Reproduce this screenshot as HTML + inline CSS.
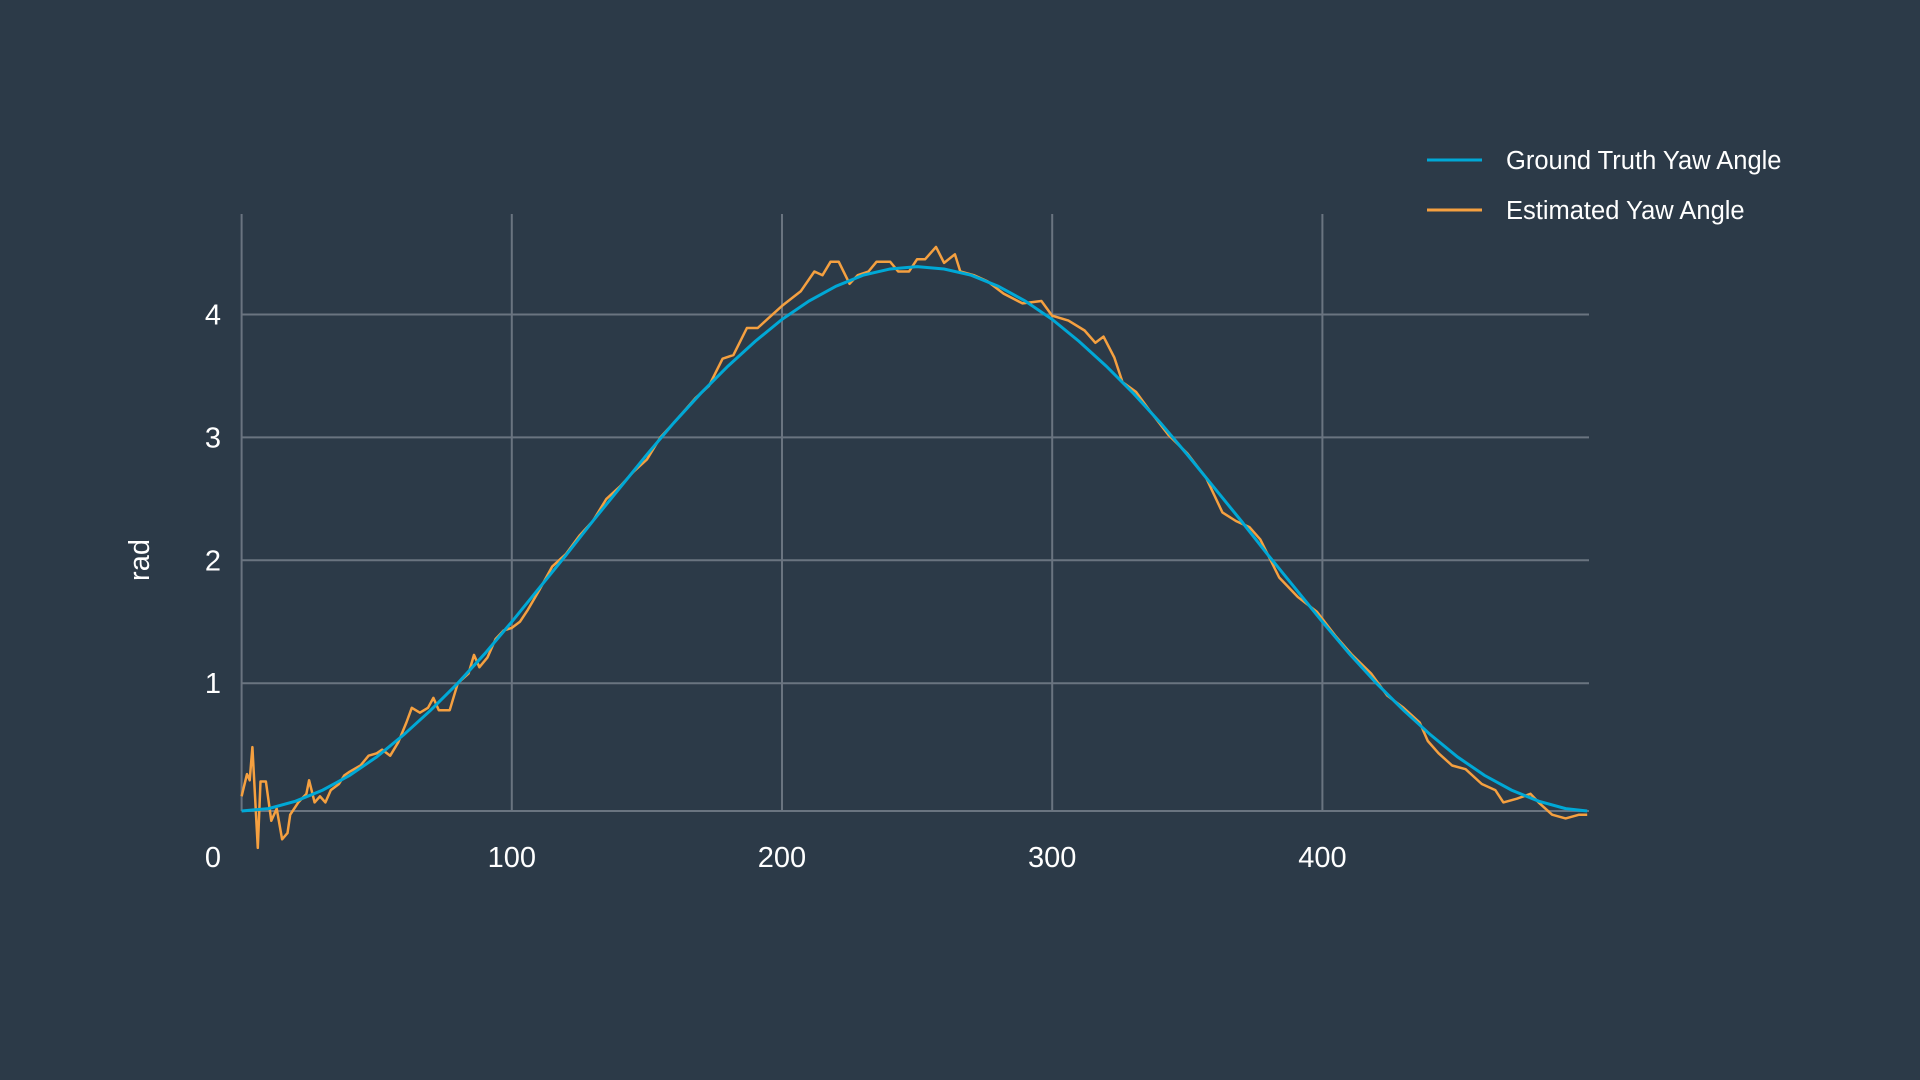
<!DOCTYPE html>
<html><head><meta charset="utf-8"><style>
html,body{margin:0;padding:0;background:#2c3a48;}
svg{display:block;font-family:"Liberation Sans",sans-serif;}
</style></head><body>
<svg id="chart" width="1920" height="1080" viewBox="0 0 1920 1080" xmlns="http://www.w3.org/2000/svg">
<rect width="1920" height="1080" fill="#2c3a48"/>
<g id="grid"></g>
<g id="ticks"></g>
<text x="149" y="560" fill="#ffffff" font-size="29" text-anchor="middle" transform="rotate(-90 149 560)">rad</text>
<g id="series"></g>
<g>
<g>
<line x1="1427" y1="160" x2="1482" y2="160" stroke="#00a8d6" stroke-width="3"/>
<text x="1506" y="169" fill="#ffffff" font-size="25.5">Ground Truth Yaw Angle</text></g>
<g>
<line x1="1427" y1="210" x2="1482" y2="210" stroke="#f5a040" stroke-width="3"/>
<text x="1506" y="219" fill="#ffffff" font-size="25.5">Estimated Yaw Angle</text></g>
</g>
</svg>
<script>
const xTicks = [100, 200, 300, 400];
const yTicks = [1, 2, 3, 4];
const truthX = [0,10,20,30,40,50,60,70,80,90,100,110,120,130,140,150,160,170,180,190,200,210,220,230,240,250,260,270,280,290,300,310,320,330,340,350,360,370,380,390,400,410,420,430,440,450,460,470,480,490,498];
const truthY = [-0.04,-0.02,0.04,0.13,0.25,0.40,0.58,0.78,1.00,1.24,1.50,1.77,2.04,2.32,2.59,2.86,3.12,3.36,3.58,3.78,3.96,4.11,4.23,4.32,4.37,4.39,4.37,4.32,4.23,4.11,3.96,3.78,3.58,3.36,3.12,2.86,2.59,2.32,2.04,1.77,1.50,1.24,1.00,0.78,0.58,0.40,0.25,0.13,0.04,-0.02,-0.04];
const estX = [0,2,3,4,6,7,9,11,13,15,17,18,21,24,25,27,29,31,33,36,38,40,44,47,50,52,55,58,61,63,66,69,71,73,77,80,84,86,88,91,94,97,100,103,106,110,115,120,125,130,135,140,145,150,155,160,164,168,173,178,182,187,191,196,200,207,212,215,218,221,225,228,232,235,240,243,247,250,253,257,260,264,266,271,276,282,289,296,300,306,312,316,319,323,326,331,336,343,350,357,363,368,373,377,384,391,398,405,411,418,424,430,436,439,443,448,453,459,464,467,472,477,480,485,490,495,498];
const estY = [0.08,0.26,0.21,0.48,-0.34,0.2,0.2,-0.12,-0.02,-0.27,-0.22,-0.07,0.03,0.1,0.21,0.03,0.08,0.03,0.13,0.18,0.25,0.28,0.33,0.41,0.43,0.46,0.41,0.52,0.68,0.8,0.76,0.8,0.88,0.78,0.78,1.0,1.08,1.23,1.13,1.21,1.36,1.43,1.45,1.5,1.6,1.75,1.95,2.05,2.2,2.32,2.5,2.6,2.72,2.82,3.0,3.12,3.22,3.32,3.42,3.64,3.67,3.89,3.89,3.99,4.07,4.19,4.35,4.32,4.43,4.43,4.25,4.32,4.35,4.43,4.43,4.35,4.35,4.45,4.45,4.55,4.42,4.49,4.35,4.32,4.27,4.17,4.09,4.11,3.99,3.95,3.87,3.77,3.82,3.65,3.45,3.37,3.22,3.02,2.87,2.67,2.39,2.32,2.27,2.17,1.86,1.7,1.58,1.38,1.23,1.08,0.9,0.8,0.68,0.53,0.43,0.33,0.3,0.18,0.13,0.03,0.06,0.1,0.03,-0.07,-0.1,-0.07,-0.07];

const NS = 'http://www.w3.org/2000/svg';
const X0 = 241.6, PX = 2.702, Y0 = 806.1, PY = 122.9;
function sx(v){ return X0 + v * PX; }
function sy(v){ return Y0 - v * PY; }
const grid = document.getElementById('grid');
const ticks = document.getElementById('ticks');
const series = document.getElementById('series');
const GC = '#6a7480';
function mk(tag, attrs, parent){ const e = document.createElementNS(NS, tag); for (const k in attrs) e.setAttribute(k, attrs[k]); parent.appendChild(e); return e; }

const left = mk('line', {x1: sx(0), y1: 214, x2: sx(0), y2: sy(-0.04), stroke: GC, 'stroke-width': 2}, grid);


const bottom = mk('line', {x1: sx(0), y1: sy(-0.04), x2: 1589, y2: sy(-0.04), stroke: GC, 'stroke-width': 2}, grid);



xTicks.forEach(t => {
  const l = mk('line', {x1: sx(t), y1: 214, x2: sx(t), y2: sy(-0.04), stroke: GC, 'stroke-width': 2}, grid);
  
  
  const tx = mk('text', {x: sx(t), y: 867, fill: '#fff', 'font-size': 29, 'text-anchor': 'middle'}, ticks);
  tx.textContent = t;
  
  
});
yTicks.forEach(t => {
  const l = mk('line', {x1: sx(0), y1: sy(t), x2: 1589, y2: sy(t), stroke: GC, 'stroke-width': 2}, grid);
  
  
  const tx = mk('text', {x: 213, y: sy(t) + 10, fill: '#fff', 'font-size': 29, 'text-anchor': 'middle'}, ticks);
  tx.textContent = t;
  
  
});
const z = mk('text', {x: 213, y: 867, fill: '#fff', 'font-size': 29, 'text-anchor': 'middle'}, ticks);
z.textContent = '0';



function pathFrom(xs, ys){ return xs.map((x, i) => (i ? 'L' : 'M') + sx(x).toFixed(1) + ',' + sy(ys[i]).toFixed(1)).join(' '); }
const est = mk('path', {d: pathFrom(estX, estY), fill: 'none', stroke: '#f5a040', 'stroke-width': 2.5, 'stroke-linejoin': 'round'}, series);


const tr = mk('path', {d: pathFrom(truthX, truthY), fill: 'none', stroke: '#00a8d6', 'stroke-width': 3}, series);


</script>
</body></html>
